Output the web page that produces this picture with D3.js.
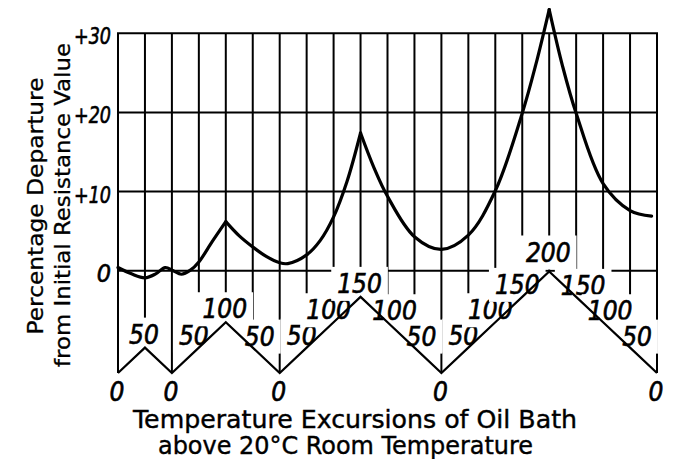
<!DOCTYPE html>
<html>
<head>
<meta charset="utf-8">
<script src="https://cdn.jsdelivr.net/npm/d3@7"></script>
<style>
  body { margin: 0; background: #fff; }
  text { fill: #000; }
</style>
</head>
<body>
<svg id="chart" width="679" height="459"></svg>
<script>
// oil bath temperature (deg C above room) at each step of the run
var bathTemps = [0, 50, 0, 50, 100, 50, 0, 50, 100, 150, 100, 50, 0, 50, 100, 150, 200, 150, 100, 50, 0];

var yTicks = [0, 10, 20, 30];
var yTickLabels = ["0", "+10", "+20", "+30"];

// percentage departure, [step, value], one array per piece between the cusps
var partA = [[0, 0.4], [0.5, -0.4], [1, -0.9], [1.4, -0.4], [1.75, 0.4], [2.05, 0.0], [2.35, -0.45], [2.7, 0.1], [3, 1.1], [3.5, 3.7], [4, 6.2]];
var partB = [[4, 6.2], [4.5, 4.4], [5, 3.0], [5.5, 1.8], [6, 1.0], [6.3, 0.9], [7, 2.0], [7.5, 3.8], [8, 6.8], [8.5, 11.3], [9, 17.4]];
var partC = [[9, 17.4], [9.5, 13.0], [10, 9.4], [11, 4.3], [12, 2.7], [13, 4.5], [14, 10.1], [15, 19.9], [15.5, 26.0], [16, 33.0]];
var partD = [[16, 33.0], [16.5, 25.8], [17, 19.9], [18, 11.0], [19, 7.6], [19.8, 6.9]];

var yTitle = ["Percentage Departure", "from Initial Resistance Value"];
var xTitle = ["Temperature Excursions of Oil Bath", "above 20\u00b0C  Room Temperature"];

var svg = d3.select("#chart");

var x = d3.scaleLinear().domain([0, bathTemps.length - 1]).range([118, 657]);
var y = d3.scaleLinear().domain([0, 30]).range([270.7, 33.3]);
var t = d3.scaleLinear().domain([0, 200]).range([373, 271.5]);

var labelFont = "'DejaVu Sans Condensed', 'DejaVu Sans', sans-serif";

// vertical rulings, each one runs down to the temperature trace
svg.append("g")
    .selectAll("line")
    .data(bathTemps)
    .enter().append("line")
    .attr("x1", function(d, i) { return x(i); })
    .attr("x2", function(d, i) { return x(i); })
    .attr("y1", y(30))
    .attr("y2", function(d) { return t(d); })
    .attr("stroke", "#000")
    .attr("stroke-width", 2);

// horizontal rulings
svg.append("g")
    .selectAll("line")
    .data(yTicks)
    .enter().append("line")
    .attr("x1", x(0) - 1)
    .attr("x2", x(bathTemps.length - 1) + 1)
    .attr("y1", function(d) { return y(d); })
    .attr("y2", function(d) { return y(d); })
    .attr("stroke", "#000")
    .attr("stroke-width", 2);

// y tick labels
var ticks = svg.append("g")
    .selectAll("text")
    .data(yTicks)
    .enter().append("text")
    .attr("x", 111)
    .attr("y", function(d) { return y(d) + 3; })
    .attr("text-anchor", "end")
    .attr("dominant-baseline", "central")
    .attr("font-family", labelFont)
    .attr("font-style", "italic")
    .attr("font-size", function(d) { return d === 0 ? 25 : 23; })
    .attr("stroke", "#000")
    .attr("stroke-width", 0.6)
    .text(function(d, i) { return yTickLabels[i]; });

ticks.filter(function(d) { return d !== 0; })
    .attr("textLength", 37)
    .attr("lengthAdjust", "spacingAndGlyphs");

// temperature labels along the trace
function labelPos(i) {
    var v = bathTemps[i];
    var prev = i > 0 ? bathTemps[i - 1] : -1;
    var next = i < bathTemps.length - 1 ? bathTemps[i + 1] : -1;
    if (v === 0) return { dx: -1, y: t(0) + 19 };
    if (v > prev && v > next) return { dx: -1, y: t(v) - (v >= 200 ? 19 : 13) };
    if (v > prev) return { dx: -5, y: t(v) - 12 };
    return { dx: 7, y: t(v) - 11 };
}

var lab = svg.append("g").selectAll("g")
    .data(bathTemps)
    .enter().append("g");

lab.append("text")
    .attr("x", function(d, i) { return x(i) + labelPos(i).dx; })
    .attr("y", function(d, i) { return labelPos(i).y; })
    .attr("text-anchor", "middle")
    .attr("dominant-baseline", "central")
    .attr("font-family", labelFont)
    .attr("font-style", "italic")
    .attr("font-size", 26)
    .attr("stroke", "#000")
    .attr("stroke-width", 0.6)
    .text(function(d) { return d; });

lab.each(function(d, i) {
    if (d === 0) return;
    var g = d3.select(this);
    var box = g.select("text").node().getBBox();
    g.insert("rect", "text")
        .attr("x", box.x - 6)
        .attr("y", box.y - 2)
        .attr("width", box.width + 12)
        .attr("height", box.height + 4)
        .attr("fill", "#fff");
});

// temperature trace
svg.append("path")
    .datum(bathTemps)
    .attr("fill", "none")
    .attr("stroke", "#000")
    .attr("stroke-width", 2.2)
    .attr("d", d3.line()
        .x(function(d, i) { return x(i); })
        .y(function(d) { return t(d); }));

// resistance departure curve
var curveLine = d3.line()
    .x(function(d) { return x(d[0]); })
    .y(function(d) { return y(d[1]); })
    .curve(d3.curveCatmullRom.alpha(0.5));

svg.append("g")
    .selectAll("path")
    .data([partA, partB, partC, partD])
    .enter().append("path")
    .attr("fill", "none")
    .attr("stroke", "#000")
    .attr("stroke-width", 3.2)
    .attr("stroke-linejoin", "round")
    .attr("stroke-linecap", "round")
    .attr("d", curveLine);

// axis titles
svg.append("g")
    .selectAll("text")
    .data(yTitle)
    .enter().append("text")
    .attr("transform", function(d, i) {
        return i === 0 ? "translate(43,206) rotate(-90)" : "translate(70,205) rotate(-90)";
    })
    .attr("text-anchor", "middle")
    .attr("font-family", "'DejaVu Sans', sans-serif")
    .attr("font-size", 21)
    .attr("stroke", "#000")
    .attr("stroke-width", 0.3)
    .attr("textLength", function(d, i) { return i === 0 ? 257 : 324; })
    .attr("lengthAdjust", "spacingAndGlyphs")
    .text(function(d) { return d; });

svg.append("g")
    .selectAll("text")
    .data(xTitle)
    .enter().append("text")
    .attr("x", function(d, i) { return i === 0 ? 355 : 345.5; })
    .attr("y", function(d, i) { return i === 0 ? 427.5 : 454; })
    .attr("text-anchor", "middle")
    .attr("font-family", "'DejaVu Sans', sans-serif")
    .attr("font-size", 24)
    .attr("stroke", "#000")
    .attr("stroke-width", 0.4)
    .attr("textLength", function(d, i) { return i === 0 ? 444 : 375; })
    .attr("lengthAdjust", "spacingAndGlyphs")
    .text(function(d) { return d; });
</script>
</body>
</html>
